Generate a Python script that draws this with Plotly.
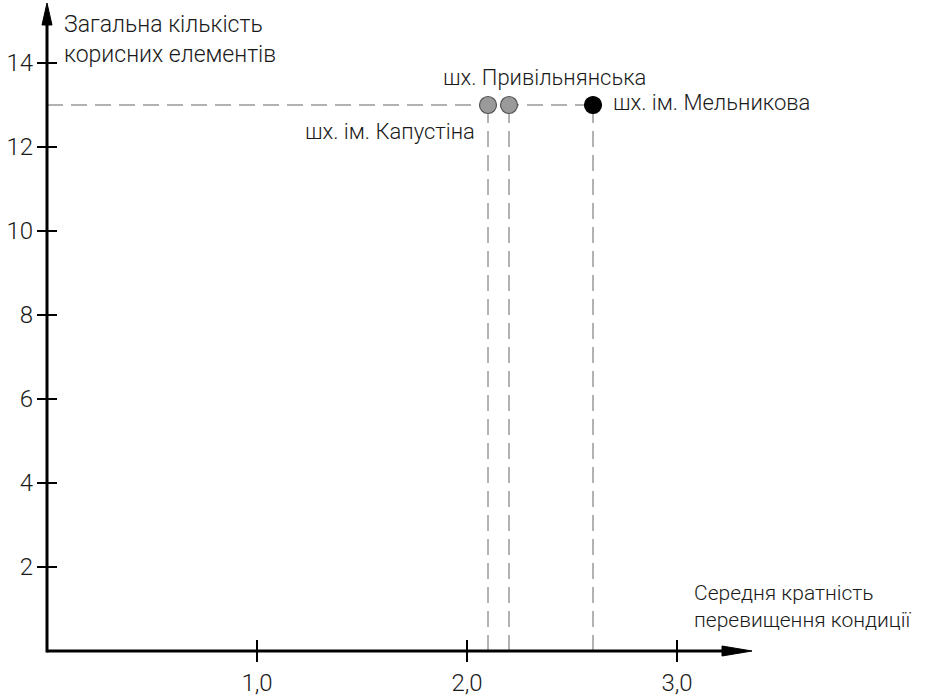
import plotly.graph_objects as go

# Data
mines = ["шх. ім. Капустіна", "шх. Привільнянська", "шх. ім. Мельникова"]
x_vals = [2.1, 2.2, 2.6]
y_vals = [13, 13, 13]
x_ticks = [1, 2, 3]
x_tick_labels = ["1,0", "2,0", "3,0"]
y_ticks = [2, 4, 6, 8, 10, 12, 14]
y_tick_labels = ["2", "4", "6", "8", "10", "12", "14"]
y_title = "Загальна кількість<br>корисних елементів"
x_title = "Середня кратність<br>перевищення кондиції"

FONT = "Roboto, Lato, sans-serif"
FS_TICK = 24
FS_TEXT = 22
TXT = "#1a1a1a"

W, H = 926, 700
OX, OY = 47, 651          # pixel position of origin
PX_X, PX_Y = 210.0, 42.0  # pixels per unit
PAD = 12                  # plot area extends a bit beyond the axes (avoids clipping)
ML = OX - PAD
MB = H - OY - PAD
x0r = -PAD / PX_X
y0r = -PAD / PX_Y
x_range = [x0r, x0r + (W - ML) / PX_X]
y_range = [y0r, y0r + (H - MB) / PX_Y]

def dx(px):
    return px / PX_X

def dy(px):
    return px / PX_Y

fig = go.Figure()

marker_colors = ["#9a9a9a", "#9a9a9a", "#000000"]
line_colors = ["#555555", "#555555", "#000000"]

dash = "16px,8px"
DASH_COLOR = "#666666"
shapes = []
shapes.append(dict(type="line", xref="x", yref="y", x0=0, x1=max(x_vals), y0=y_vals[0], y1=y_vals[0],
                   line=dict(color=DASH_COLOR, width=1, dash=dash), layer="below"))
for xv, yv in zip(x_vals, y_vals):
    shapes.append(dict(type="line", xref="x", yref="y", x0=xv, x1=xv, y0=0, y1=yv,
                       line=dict(color=DASH_COLOR, width=1, dash=dash), layer="below"))

x_tip = (752 - OX) / PX_X
y_tip = (OY - 3) / PX_Y
# axis lines
shapes.append(dict(type="line", xref="x", yref="y", x0=0, x1=x_tip - dx(20), y0=0, y1=0,
                   line=dict(color="black", width=3)))
shapes.append(dict(type="line", xref="x", yref="y", x0=0, x1=0, y0=-dy(1.5), y1=y_tip - dy(16),
                   line=dict(color="black", width=3)))
# arrowheads
shapes.append(dict(type="path", xref="x", yref="y",
                   path=f"M{x_tip},0 L{x_tip - dx(30)},{dy(5)} L{x_tip - dx(30)},{-dy(5)} Z",
                   fillcolor="black", line=dict(color="black", width=1)))
shapes.append(dict(type="path", xref="x", yref="y",
                   path=f"M0,{y_tip} L{-dx(5)},{y_tip - dy(22)} L{dx(5)},{y_tip - dy(22)} Z",
                   fillcolor="black", line=dict(color="black", width=1)))
# crossing tick marks
for t in x_ticks:
    shapes.append(dict(type="line", xref="x", yref="y", x0=t, x1=t, y0=-dy(11), y1=dy(11),
                       line=dict(color="black", width=2)))
for t in y_ticks:
    shapes.append(dict(type="line", xref="x", yref="y", y0=t, y1=t, x0=-dx(10), x1=dx(10),
                       line=dict(color="black", width=2)))

fig.add_trace(go.Scatter(
    x=x_vals, y=y_vals, mode="markers",
    marker=dict(size=17, opacity=1, color=marker_colors, line=dict(color=line_colors, width=1.2)),
    hoverinfo="skip", showlegend=False, cliponaxis=False,
))

annotations = []
label_shift = [(-11, -26, "right"), (35, 28, "center"), (18, 3, "left")]
for name, xv, yv, (sx, sy, xa) in zip(mines, x_vals, y_vals, label_shift):
    annotations.append(dict(x=xv, y=yv, xref="x", yref="y", text=name, showarrow=False,
                            xanchor=xa, yanchor="middle", xshift=sx, yshift=sy,
                            font=dict(family=FONT, size=FS_TEXT, color=TXT, weight=300)))

annotations.append(dict(x=dx(62 - OX), y=dy(OY - 39), xref="x", yref="y",
                        text=y_title, showarrow=False, xanchor="left", yanchor="middle", align="left",
                        font=dict(family=FONT, size=FS_TEXT + 1, color=TXT, weight=300)))
annotations.append(dict(x=dx(692 - OX), y=dy(OY - 606), xref="x", yref="y",
                        text=x_title, showarrow=False, xanchor="left", yanchor="middle", align="left",
                        font=dict(family=FONT, size=FS_TEXT - 1, color=TXT, weight=300)))

fig.update_layout(
    width=W, height=H,
    template="none",
    paper_bgcolor="white", plot_bgcolor="white",
    margin=dict(l=ML, r=0, t=0, b=MB, pad=0),
    shapes=shapes, annotations=annotations,
    showlegend=False,
    xaxis=dict(range=x_range, showgrid=False, zeroline=False, showline=False,
               tickvals=x_ticks, ticktext=x_tick_labels, ticks="", ticklabelstandoff=3,
               tickfont=dict(family=FONT, size=FS_TICK, color=TXT, weight=300),
               automargin=False, fixedrange=True),
    yaxis=dict(range=y_range, showgrid=False, zeroline=False, showline=False,
               tickvals=y_ticks, ticktext=y_tick_labels, ticks="", ticklabelstandoff=1,
               tickfont=dict(family=FONT, size=FS_TICK, color=TXT, weight=300),
               automargin=False, fixedrange=True),
)

fig.write_html("out.html", config={"displayModeBar": False},
               post_script="document.body.style.margin='0';")
